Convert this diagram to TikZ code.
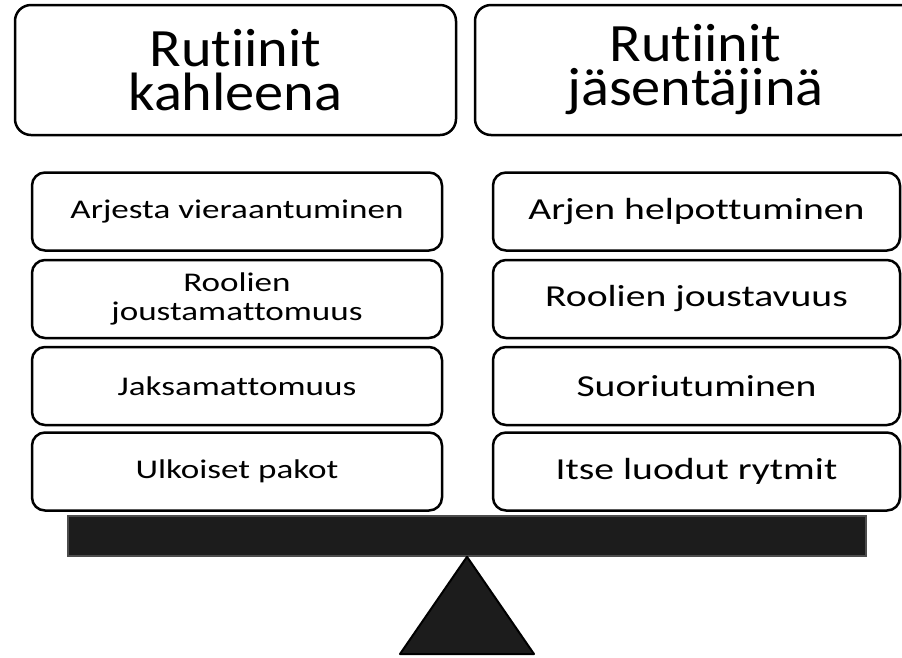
\documentclass[tikz,border=0pt]{standalone}
\usepackage{fontspec}
\setmainfont[RawFeature=-liga,FakeStretch=1.08]{Carlito}
\newfontfamily\itemfont[RawFeature=-liga,FakeStretch=1.3]{Carlito}
\usetikzlibrary{positioning, calc}

\begin{document}
\begin{tikzpicture}[x=1pt,y=-1pt,
    titlebox/.style={draw,line width=2.5pt,rounded corners=16pt,minimum width=441pt,minimum height=130pt,align=center,font=\fontsize{54}{44}\selectfont},
    leftitem/.style={draw,line width=2.5pt,rounded corners=13pt,minimum width=410pt,minimum height=78pt,align=center,font=\itemfont\fontsize{27}{29}\selectfont},
    rightitem/.style={leftitem,minimum width=407pt,font=\itemfont\fontsize{30.5}{32}\selectfont}]
            \useasboundingbox (0,0) rectangle (902,657);
            % otsikot
            \node[titlebox] (kahle) at (235.5,70){Rutiinit\\kahleena};
            \node[titlebox] (jasen) at (695.5,70){Rutiinit\\jäsentäjinä};
            % vasen sarake
            \node[leftitem] (L1) at (237,211.5){Arjesta vieraantuminen};
            \node[leftitem] (L2) at (237,299){Roolien\\joustamattomuus};
            \node[leftitem] (L3) at (237,386){Jaksamattomuus};
            \node[leftitem] (L4) at (237,471.5){Ulkoiset pakot};
            % oikea sarake
            \node[rightitem] (R1) at (696.5,211.5){Arjen helpottuminen};
            \node[rightitem] (R2) at (696.5,299){Roolien joustavuus};
            \node[rightitem] (R3) at (696.5,386){Suoriutuminen};
            \node[rightitem] (R4) at (696.5,471.5){Itse luodut rytmit};
            % vaaka
            \node[draw=black!70,line width=1.5pt,fill=black!89,minimum width=798pt,minimum height=40pt,inner sep=0pt] (beam) at (467,536){};
            \coordinate (baseL) at (400,654);
            \coordinate (baseR) at (534,654);
            \draw[line width=2pt,fill=black!89,line join=round] (beam.south) -- (baseR) -- (baseL) -- cycle;
        \end{tikzpicture}
\end{document}
